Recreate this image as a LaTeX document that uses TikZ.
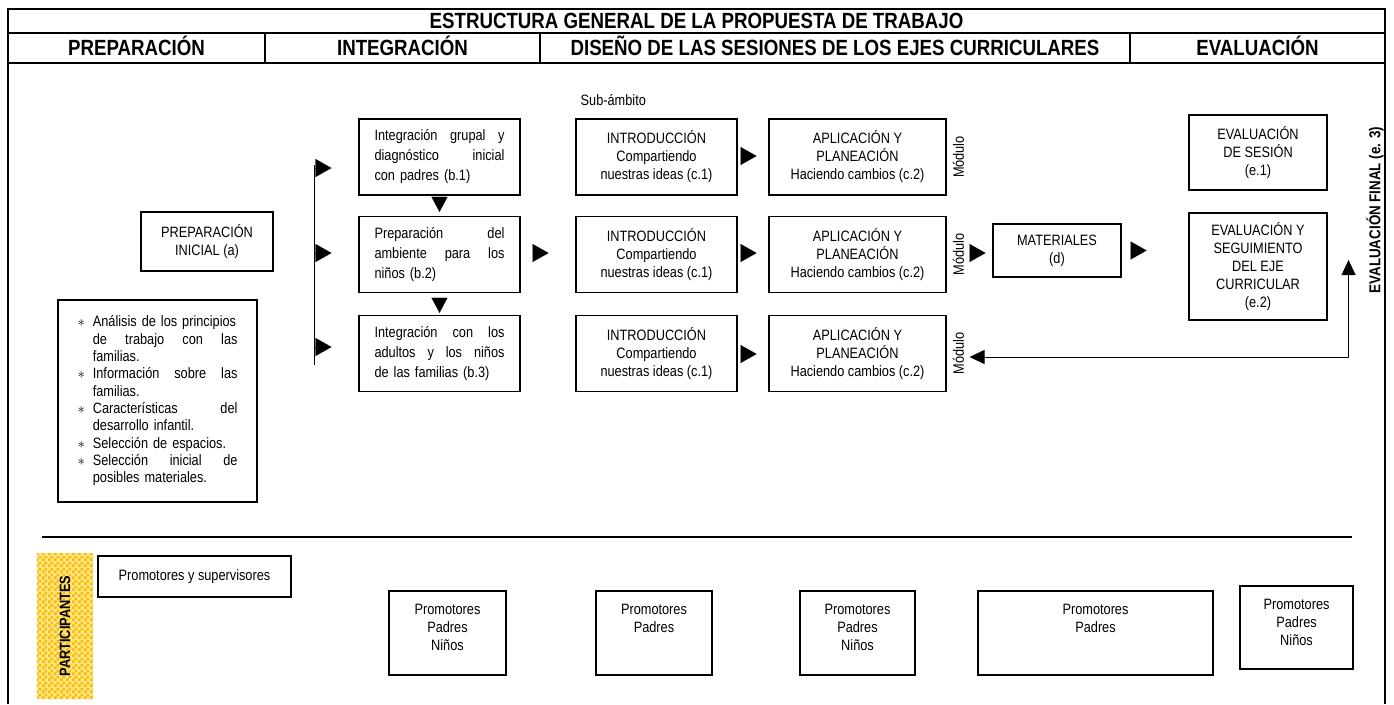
\documentclass[tikz,border=0pt]{standalone}
\usepackage{fontspec}
\setmainfont{Liberation Sans}[FakeStretch=0.85]
\usetikzlibrary{calc, arrows.meta, patterns}

\definecolor{checkdark}{RGB}{250,186,0}
\definecolor{checklight}{RGB}{255,228,130}
\newcommand{\bodyfont}{\fontsize{11.25pt}{13.5pt}\selectfont}
\newcommand{\headfont}{\fontsize{16.5pt}{18pt}\selectfont\bfseries}
\newcommand{\listmark}{\makebox[11.5pt][l]{$\ast$}}
\newcommand{\listind}{\hspace*{11.5pt}}
% small checker pattern for the participants strip
\pgfdeclarepatternformonly{smallcheck}{\pgfpointorigin}{\pgfqpoint{4.5pt}{4.5pt}}{\pgfqpoint{4.5pt}{4.5pt}}{%
  \pgfpathrectangle{\pgfpointorigin}{\pgfqpoint{2.25pt}{2.25pt}}%
  \pgfpathrectangle{\pgfqpoint{2.25pt}{2.25pt}}{\pgfqpoint{2.25pt}{2.25pt}}%
  \pgfusepath{fill}}

\tikzset{
  box/.style={draw, line width=0.8pt, align=center, font=\bodyfont, inner sep=0pt},
  head/.style={font=\headfont, text height=11.8pt, text depth=0pt, inner sep=0pt},
  intg/.style={box, text width=97.5pt, align=left, minimum width=120.75pt, minimum height=57pt,
    font={\fontsize{11.25pt}{15pt}\selectfont}},
  intro/.style={box, minimum width=120.75pt, minimum height=57pt},
  aplic/.style={box, minimum width=132.75pt, minimum height=57pt},
  modlabel/.style={rotate=90, font=\bodyfont, inner sep=0pt},
  pbox/.style={box, minimum height=63pt},
  ptext/.style={anchor=north, align=center, font=\bodyfont, yshift=-7pt},
  tip/.style={-{Triangle[length=12pt,width=13.5pt]}, line width=0.1pt},
  tipdown/.style={-{Triangle[length=11.25pt,width=12pt]}, line width=0.1pt},
  back/.style={line width=0.6pt, -{Triangle[length=11.25pt,width=10.5pt]}}
}

\begin{document}
\begin{tikzpicture}[x=0.75pt, y=-0.75pt]
\useasboundingbox (0,0) rectangle (1394,704);
% Frame and header rows
\draw[line width=1.6pt] (8,704) -- (8,9) -- (1385,9) -- (1385,704);
\draw[line width=0.9pt] (8,33) -- (1385,33);
\draw[line width=1.4pt] (8,63) -- (1385,63);
\draw[line width=0.8pt] (265,33) -- (265,63) (540,33) -- (540,63) (1130,33) -- (1130,63);
\node[head] (title) at (696.5,21) {ESTRUCTURA GENERAL DE LA PROPUESTA DE TRABAJO};
\node[head] (hprep) at (136.5,48) {PREPARACIÓN};
\node[head] (hintg) at (402.5,48) {INTEGRACIÓN};
\node[head] (hdis) at (835,48) {DISEÑO DE LAS SESIONES DE LOS EJES CURRICULARES};
\node[head] (heval) at (1257.5,48) {EVALUACIÓN};

% Preparacion
\node[box, minimum width=99pt, minimum height=44.25pt] (prep) at (207,241.5) {PREPARACIÓN\\INICIAL (a)};
\node[box, text width=120pt, align=left, minimum width=149.25pt, minimum height=151.5pt,
  font={\fontsize{11.25pt}{13pt}\selectfont}] (list) at (157.5,401) {%
  \listmark\mbox{Análisis de los principios}\\
  \listind de\hfill trabajo\hfill con\hfill las\\
  \listind familias.\\
  \listmark Información\hfill sobre\hfill las\\
  \listind familias.\\
  \listmark Características\hfill del\\
  \listind desarrollo infantil.\\
  \listmark Selección de espacios.\\
  \listmark Selección\hfill inicial\hfill de\\
  \listind posibles materiales.};

% Integracion
\node[intg] (b1) at (439.5,157) {Integración\hfill grupal\hfill y\\ diagnóstico\hfill inicial\\ con padres (b.1)};
\node[intg] (b2) at (439.5,254.5) {Preparación\hfill del\\ ambiente\hfill para\hfill los\\ niños (b.2)};
\node[intg] (b3) at (439.5,353.5) {Integración\hfill con\hfill los\\ adultos\hfill y\hfill los\hfill niños\\ de las familias (b.3)};
\coordinate (bartop) at ($(b1.west)+(-44,8)$);
\coordinate (barbot) at ($(b3.west)+(-44,11.5)$);
\draw[line width=0.8pt] (bartop) -- (barbot);
\draw[tip] ($(b1.west)+(-44,11)$) -- ++(17,0);
\draw[tip] ($(b2.west)+(-44,-1.5)$) -- ++(17,0);
\draw[tip] ($(b3.west)+(-44,-6.5)$) -- ++(17,0);
\draw[tipdown] ($(b1.south)!.1!(b2.north)$) -- ($(b1.south)!.8!(b2.north)$);
\draw[tipdown] ($(b2.south)!.25!(b3.north)$) -- ($(b2.south)!.9!(b3.north)$);

% Ejes curriculares
\node[anchor=west, font=\bodyfont] (sub) at (576,100) {Sub-ámbito};
\node[intro] (c1) at (656.5,157) {INTRODUCCIÓN\\Compartiendo\\nuestras ideas (c.1)};
\node[intro] (c2) at (656.5,254.5) {INTRODUCCIÓN\\Compartiendo\\nuestras ideas (c.1)};
\node[intro] (c3) at (656.5,353.5) {INTRODUCCIÓN\\Compartiendo\\nuestras ideas (c.1)};
\node[aplic] (a1) at (857.5,157) {APLICACIÓN Y\\PLANEACIÓN\\Haciendo cambios (c.2)};
\node[aplic] (a2) at (857.5,254.5) {APLICACIÓN Y\\PLANEACIÓN\\Haciendo cambios (c.2)};
\node[aplic] (a3) at (857.5,353.5) {APLICACIÓN Y\\PLANEACIÓN\\Haciendo cambios (c.2)};
\node[modlabel] (m1) at ($(a1.east)+(12,0)$) {Módulo};
\node[modlabel] (m2) at ($(a2.east)+(12,0)$) {Módulo};
\node[modlabel] (m3) at ($(a3.east)+(12,0)$) {Módulo};
\draw[tip] ($(b2.east)+(12,-1.5)$) -- ++(16,0);
\draw[tip] ($(c1.east)+(3,-1)$) -- ++(16,0);
\draw[tip] ($(c2.east)+(3,-1.5)$) -- ++(16,0);
\draw[tip] ($(c3.east)+(3,0.5)$) -- ++(16,0);
\node[box, minimum width=96pt, minimum height=39.75pt] (mat) at (1057,250.5) {MATERIALES\\(d)};
\draw[tip] ($(a2.east)+(23,-1.5)$) -- ++(16,0);

% Evaluacion
\node[box, minimum width=103.5pt, minimum height=56.25pt] (e1) at (1258,152.5) {EVALUACIÓN\\DE SESIÓN\\(e.1)};
\node[box, minimum width=103.5pt, minimum height=80.25pt] (e2) at (1258,266.5) {EVALUACIÓN Y\\SEGUIMIENTO\\DEL EJE\\CURRICULAR\\(e.2)};
\node[rotate=90, inner sep=0pt, font={\fontsize{11.8pt}{13pt}\selectfont\bfseries}] (e3) at (1375,210) {EVALUACIÓN FINAL (e. 3)};
\draw[tip] ($(mat.east)+(9,0)$) -- ++(16,0);
\coordinate (ret) at ($(e2.east)+(21,90.5)$);
\draw[back] (ret) -- ++(0,-97);
\draw[back] (ret) -- ($(a3.east |- ret)+(23,0)$);

% Participantes
\draw[line width=1.2pt] (42,537) -- (1352,537);
\node[rotate=90, minimum width=109.5pt, minimum height=42pt, inner sep=0pt, fill=checklight,
  postaction={pattern=smallcheck, pattern color=checkdark},
  font={\fontsize{11.25pt}{13pt}\selectfont\bfseries}] (part) at (65,626) {PARTICIPANTES};
\node[box, minimum width=144.75pt, minimum height=30.75pt] (sup) at (194.5,576.5) {Promotores y supervisores};
\node[pbox, minimum width=87.75pt, label={[ptext]north:Promotores\\Padres\\Niños}] (p1) at (447.5,633) {};
\node[pbox, minimum width=87pt, label={[ptext]north:Promotores\\Padres}] (p2) at (654,633) {};
\node[pbox, minimum width=86.25pt, label={[ptext]north:Promotores\\Padres\\Niños}] (p3) at (857.5,633) {};
\node[pbox, minimum width=176.25pt, label={[ptext]north:Promotores\\Padres}] (p4) at (1095.5,633) {};
\node[pbox, minimum width=84.75pt, minimum height=62.25pt, label={[ptext]north:Promotores\\Padres\\Niños}] (p5) at (1296.5,627.5) {};
\end{tikzpicture}
\end{document}
